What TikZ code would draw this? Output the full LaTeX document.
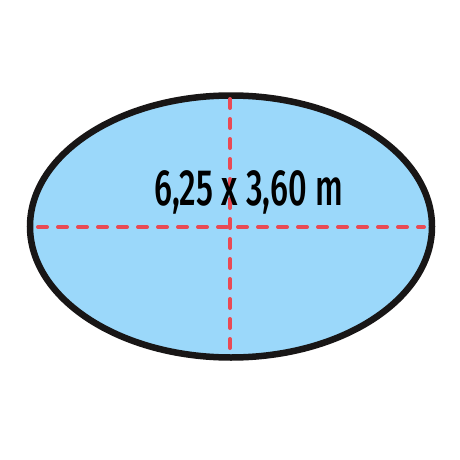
\documentclass[tikz,border=0pt]{standalone}
\usepackage{fontspec}
\setmainfont{Fira Sans}
\newfontfamily\sizefont{Fira Sans Medium}
\definecolor{poolblue}{RGB}{155,216,250}
\definecolor{rim}{RGB}{24,22,22}
\definecolor{axisred}{RGB}{233,74,84}
\begin{document}
\begin{tikzpicture}[x=1pt, y=-1pt]
\tikzstyle{pool}=[draw=rim, fill=poolblue, line width=6.5pt]
\tikzstyle{axis}=[draw=axisred, line width=4pt, line cap=round, dash pattern=on 9pt off 11pt]
\tikzstyle{size}=[font=\sizefont\fontsize{51}{51}\selectfont, text=black, inner sep=0pt]
\useasboundingbox (0,0) rectangle (460,460);
\coordinate (c) at (231,226.5);
\filldraw[pool] (c) ellipse [x radius=201, y radius=131];
\coordinate (w) at (38,227);
\coordinate (e) at (424,227);
\coordinate (n) at (230,99);
\coordinate (s) at (230,356);
\draw[axis] (w) -- (e);
\draw[axis] (n) -- (s);
\node[size, anchor=base] (label) at (248.5,205) {\scalebox{0.64}[1]{6,25 x 3,60 m}};
\end{tikzpicture}
\end{document}
